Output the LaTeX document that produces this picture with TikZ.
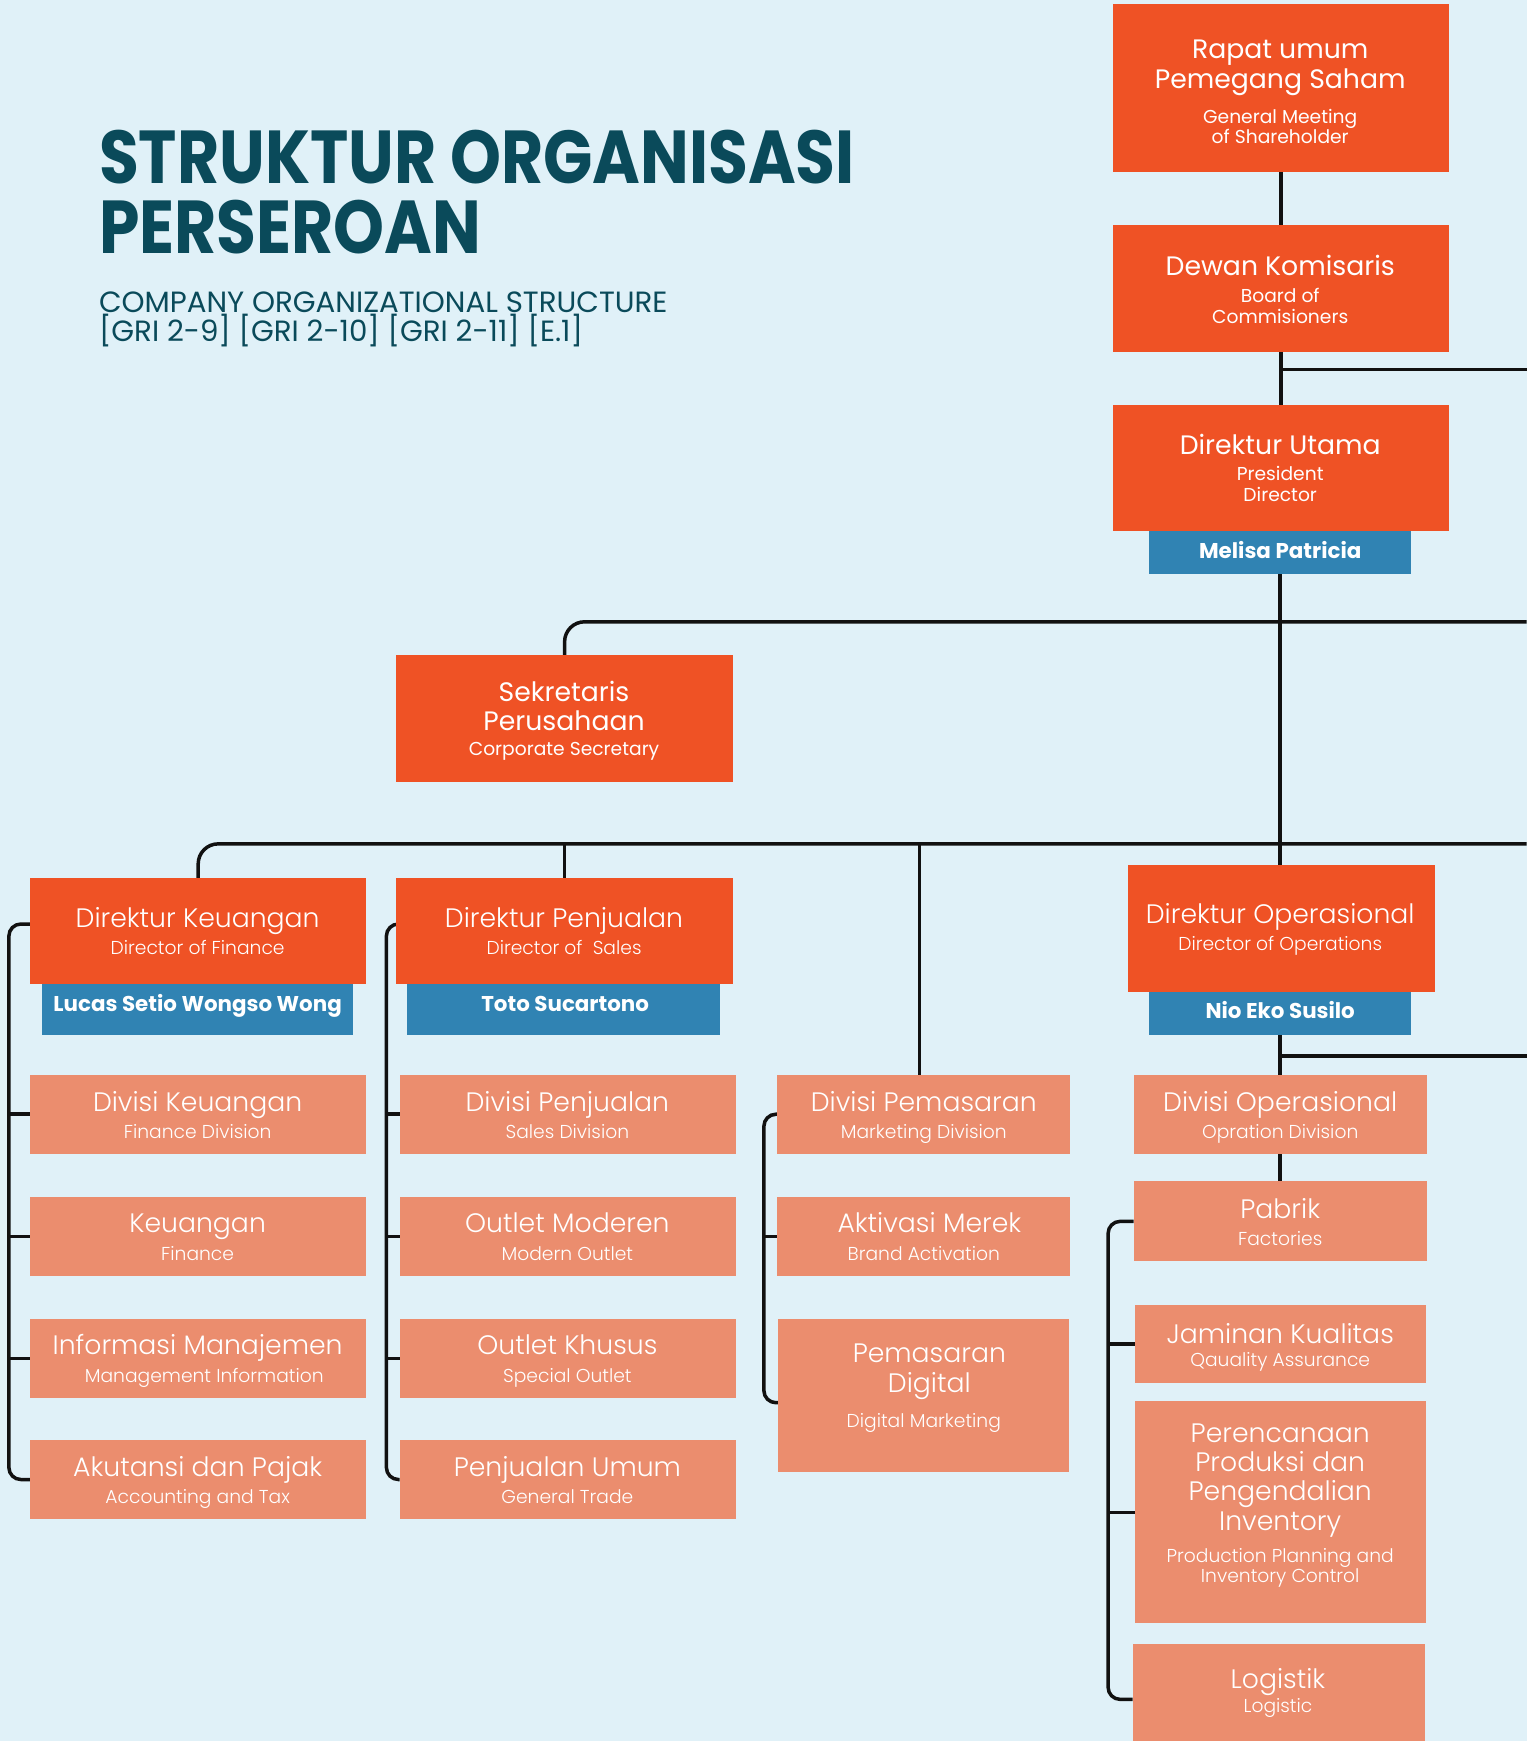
\documentclass[tikz,border=0pt]{standalone}
\usepackage{graphicx}
\usepackage{fontspec}
\setmainfont{Poppins}
\newfontfamily\plight{Poppins Light}
\usetikzlibrary{calc}
\definecolor{bgc}{HTML}{E0F1F8}
\definecolor{orng}{HTML}{EF5225}
\definecolor{salm}{HTML}{EB8D6E}
\definecolor{blu}{HTML}{3083B3}
\definecolor{ttl}{HTML}{0A4A5A}
\definecolor{lnc}{HTML}{111111}
\pgfdeclarelayer{back}\pgfdeclarelayer{lines}\pgfsetlayers{back,lines,main}
\newcommand\bx[6]{\node[#1, minimum width={(#5-#3)*1.1105pt}, minimum height={(#6-#4)*1.1105pt}] (#2) at (#3,#4) {};}
\newcommand\tx[5]{\node[#1] (#2) at (#3,#4) {#5};}
\begin{document}
\begin{tikzpicture}[x=1.1105pt,y=-1.1105pt,
 box/.style={rectangle, inner sep=0pt, outer sep=0pt, anchor=north west},
 ob/.style={box, fill=orng},
 sb/.style={box, fill=salm},
 nb/.style={box, fill=blu},
 big/.style={inner sep=0pt, anchor=base, text=white, font=\fontsize{26.7}{30}\selectfont},
 sml/.style={inner sep=0pt, anchor=base, text=white, font=\fontsize{18.7}{22}\selectfont},
 bigl/.style={inner sep=0pt, anchor=base, text=white, font=\plight\fontsize{26.7}{30}\selectfont},
 smll/.style={inner sep=0pt, anchor=base, text=white, font=\plight\fontsize{18.7}{22}\selectfont},
 nm/.style={inner sep=0pt, anchor=base, text=white, font=\bfseries\fontsize{21.4}{24}\selectfont},
 conn/.style={draw=lnc, line width=3.5pt},
 ttlf/.style={anchor=base west, inner sep=0pt, text=ttl, font=\bfseries\fontsize{75}{80}\selectfont},
]
\useasboundingbox (0,0) rectangle (1375,1568);
\begin{pgfonlayer}{back}
\fill[bgc] (0,0) rectangle (1375,1568);
\end{pgfonlayer}

% title
\node[ttlf] (title1) at (89,165) {\scalebox{0.864}[1]{STRUKTUR ORGANISASI}};
\node[ttlf] (title2) at (89,228) {\scalebox{0.864}[1]{PERSEROAN}};
\node[anchor=base west, inner sep=0pt, text=ttl, font=\fontsize{29.3}{32}\selectfont] (sub1) at (89,281) {COMPANY ORGANIZATIONAL STRUCTURE};
\node[anchor=base west, inner sep=0pt, text=ttl, font=\fontsize{29.3}{32}\selectfont] (sub2) at (89,308) {[GRI 2-9] [GRI 2-10] [GRI 2-11] [E.1]};

% boxes
\bx{ob}{rapat}{1002}{4}{1305}{155}
\bx{ob}{dewan}{1002}{203}{1305}{317}
\bx{ob}{dirut}{1002}{365}{1305}{478}
\bx{nb}{melisa}{1035}{478}{1271}{517}
\bx{ob}{sekr}{357}{590}{660}{704}
\bx{ob}{dirkeu}{27}{791}{330}{886}
\bx{nb}{lucas}{38}{886}{318}{932}
\bx{ob}{dirpen}{357}{791}{660}{886}
\bx{nb}{toto}{367}{886}{648}{932}
\bx{ob}{dirops}{1016}{779}{1292}{893}
\bx{nb}{nio}{1035}{893}{1271}{932}
\bx{sb}{divkeu}{27}{968}{330}{1039}
\bx{sb}{keu}{27}{1078}{330}{1149}
\bx{sb}{info}{27}{1188}{330}{1259}
\bx{sb}{akut}{27}{1297}{330}{1368}
\bx{sb}{divpen}{360}{968}{663}{1039}
\bx{sb}{outmod}{360}{1078}{663}{1149}
\bx{sb}{outkhu}{360}{1188}{663}{1259}
\bx{sb}{penum}{360}{1297}{663}{1368}
\bx{sb}{divpem}{700}{968}{964}{1039}
\bx{sb}{aktiv}{700}{1078}{964}{1149}
\bx{sb}{pemdig}{701}{1188}{963}{1326}
\bx{sb}{divops}{1021}{968}{1285}{1039}
\bx{sb}{pabrik}{1021}{1064}{1285}{1136}
\bx{sb}{jamin}{1022}{1175}{1284}{1246}
\bx{sb}{peren}{1022}{1262}{1284}{1462}
\bx{sb}{logis}{1020}{1481}{1283}{1580}

% texts
\tx{big}{rapatA}{1153}{53}{Rapat umum}
\tx{big}{rapatB}{1153}{80}{Pemegang Saham}
\tx{sml}{rapatC}{1153}{111}{General Meeting}
\tx{sml}{rapatD}{1153}{129}{of Shareholder}
\tx{big}{dewanA}{1153}{248}{Dewan Komisaris}
\tx{sml}{dewanB}{1153}{272}{Board of}
\tx{sml}{dewanC}{1153}{291}{Commisioners}
\tx{big}{dirutA}{1153}{409}{Direktur Utama}
\tx{sml}{dirutB}{1153}{433}{President}
\tx{sml}{dirutC}{1153}{452}{Director}
\tx{nm}{melisaT}{1153}{503}{Melisa Patricia}
\tx{big}{sekrA}{508}{632}{Sekretaris}
\tx{big}{sekrB}{508}{658}{Perusahaan}
\tx{sml}{sekrC}{508}{680}{Corporate Secretary}
\tx{bigl}{dirkeuA}{178}{835}{Direktur Keuangan}
\tx{smll}{dirkeuB}{178}{860}{Director of Finance}
\tx{nm}{lucasT}{178}{911}{Lucas Setio Wongso Wong}
\tx{bigl}{dirpenA}{508}{835}{Direktur Penjualan}
\tx{smll}{dirpenB}{508}{860}{Director of\ \ Sales}
\tx{nm}{totoT}{509}{911}{Toto Sucartono}
\tx{bigl}{diropsA}{1153}{832}{Direktur Operasional}
\tx{smll}{diropsB}{1153}{856}{Director of Operations}
\tx{nm}{nioT}{1153}{917}{Nio Eko Susilo}
% finance
\tx{bigl}{divkeuA}{178}{1001}{Divisi Keuangan}
\tx{smll}{divkeuB}{178}{1025}{Finance Division}
\tx{bigl}{keuA}{178}{1110}{Keuangan}
\tx{smll}{keuB}{178}{1135}{Finance}
\tx{bigl}{infoA}{178}{1220}{Informasi Manajemen}
\tx{smll}{infoB}{184}{1245}{Management Information}
\tx{bigl}{akutA}{178}{1330}{Akutansi dan Pajak}
\tx{smll}{akutB}{178}{1354}{Accounting and Tax}
% sales
\tx{bigl}{divpenA}{511}{1001}{Divisi Penjualan}
\tx{smll}{divpenB}{511}{1025}{Sales Division}
\tx{bigl}{outmodA}{511}{1110}{Outlet Moderen}
\tx{smll}{outmodB}{511}{1135}{Modern Outlet}
\tx{bigl}{outkhuA}{511}{1220}{Outlet Khusus}
\tx{smll}{outkhuB}{511}{1245}{Special Outlet}
\tx{bigl}{penumA}{511}{1330}{Penjualan Umum}
\tx{smll}{penumB}{511}{1354}{General Trade}
% marketing
\tx{bigl}{divpemA}{832}{1001}{Divisi Pemasaran}
\tx{smll}{divpemB}{832}{1025}{Marketing Division}
\tx{bigl}{aktivA}{837}{1110}{Aktivasi Merek}
\tx{smll}{aktivB}{832}{1135}{Brand Activation}
\tx{bigl}{pemdigA}{837}{1227}{Pemasaran}
\tx{bigl}{pemdigB}{837}{1254}{Digital}
\tx{smll}{pemdigC}{832}{1286}{Digital Marketing}
% operations
\tx{bigl}{divopsA}{1153}{1001}{Divisi Operasional}
\tx{smll}{divopsB}{1153}{1025}{Opration Division}
\tx{bigl}{pabrikA}{1153}{1097}{Pabrik}
\tx{smll}{pabrikB}{1153}{1122}{Factories}
\tx{bigl}{jaminA}{1153}{1210}{Jaminan Kualitas}
\tx{smll}{jaminB}{1153}{1231}{Qauality Assurance}
\tx{bigl}{perenA}{1153}{1299}{Perencanaan}
\tx{bigl}{perenB}{1153}{1325}{Produksi dan}
\tx{bigl}{perenC}{1153}{1351}{Pengendalian}
\tx{bigl}{perenD}{1153}{1378}{Inventory}
\tx{smll}{perenE}{1153}{1407}{Production Planning and}
\tx{smll}{perenF}{1153}{1425}{Inventory Control}
\tx{bigl}{logisA}{1151}{1521}{Logistik}
\tx{smll}{logisB}{1151}{1542}{Logistic}

% connectors
\begin{pgfonlayer}{lines}
\coordinate (e333) at (1375,333);
\coordinate (e560) at (1375,560);
\coordinate (e760) at (1375,760);
\coordinate (e951) at (1375,951);
\coordinate (m828) at (828,760);
\draw[conn] (rapat.south) -- (dewan.north);
\draw[conn] (dewan.south) -- (dirut.north);
\draw[conn] (dewan.south |- e333) -- (e333);
\draw[conn] (melisa.south) -- (melisa.south |- dirops.north);
\draw[conn,rounded corners=20pt] (e560) -| (sekr.north);
\draw[conn,rounded corners=20pt] (e760) -| (dirkeu.north);
\draw[conn] (dirpen.north |- e760) -- (dirpen.north);
\draw[conn] (m828) -- (m828 |- divpem.north);
\draw[conn] (nio.south) -- (nio.south |- divops.north);
\draw[conn] (nio.south |- e951) -- (e951);
\draw[conn] (divops.south) -- (divops.south |- pabrik.north);
% finance bracket
\coordinate (fk) at (8,1100);
\draw[conn,rounded corners=12pt] ([yshift=7pt]dirkeu.west) -| (fk) |- (akut.west);
\draw[conn] (divkeu.west -| fk) -- (divkeu.west);
\draw[conn] (keu.west -| fk) -- (keu.west);
\draw[conn] (info.west -| fk) -- (info.west);
% sales bracket
\coordinate (sk) at (348,1100);
\draw[conn,rounded corners=12pt] ([yshift=7pt]dirpen.west) -| (sk) |- (penum.west);
\draw[conn] (divpen.west -| sk) -- (divpen.west);
\draw[conn] (outmod.west -| sk) -- (outmod.west);
\draw[conn] (outkhu.west -| sk) -- (outkhu.west);
% marketing bracket
\coordinate (mk) at (688,1100);
\draw[conn,rounded corners=12pt] (divpem.west) -| (mk) |- ([yshift=-7pt]pemdig.west);
\draw[conn] (aktiv.west -| mk) -- (aktiv.west);
% operations bracket
\coordinate (ok) at (998,1300);
\draw[conn,rounded corners=12pt] (pabrik.west) -| (ok) |- (logis.west);
\draw[conn] (jamin.west -| ok) -- (jamin.west);
\draw[conn] (peren.west -| ok) -- (peren.west);
\end{pgfonlayer}
\end{tikzpicture}
\end{document}
